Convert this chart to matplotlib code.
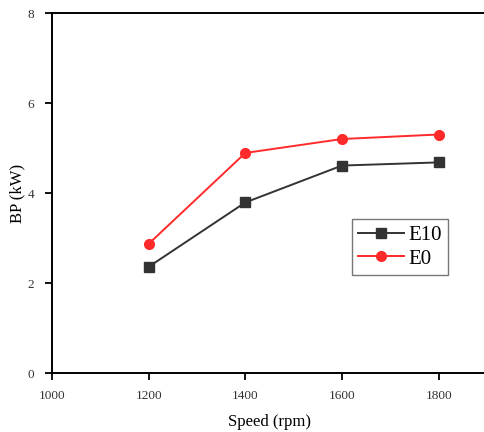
import matplotlib
matplotlib.use("Agg")
import matplotlib.pyplot as plt

# engine speed vs brake power
speed = [1200, 1400, 1600, 1800]
bp_e10 = [2.36, 3.79, 4.61, 4.68]
bp_e0 = [2.87, 4.89, 5.20, 5.30]
xticks = [1000, 1200, 1400, 1600, 1800]
yticks = [0, 2, 4, 6, 8]

plt.rcParams['font.family'] = ['Liberation Serif', 'DejaVu Serif']

fig = plt.figure(figsize=(4.85, 4.32), dpi=100)
ax = fig.add_axes([52 / 485, 1 - 373 / 432, 435 / 485, 360 / 432])

ax.plot(speed, bp_e10, color='#333333', marker='s', markersize=6.5, linewidth=1.4, label='E10')
ax.plot(speed, bp_e0, color='#ff2a2a', marker='o', markersize=7, linewidth=1.4, label='E0')

ax.set_xlim(1000, 1900)
ax.set_ylim(0, 8)
ax.set_xticks(xticks)
ax.set_yticks(yticks)
ax.tick_params(direction='out', length=5, width=1.3, labelsize=9.5, labelcolor='#333333')
ax.tick_params(axis='x', pad=7)
ax.tick_params(axis='y', pad=8)

for side in ['left', 'bottom', 'top']:
    ax.spines[side].set_linewidth(1.4)
ax.spines['right'].set_visible(False)

ax.set_xlabel('Speed (rpm)', fontsize=12, labelpad=9)
ax.set_ylabel('BP (kW)', fontsize=12, va='center')
ax.yaxis.set_label_coords(-0.079, 0.5)

leg = ax.legend(loc='upper left', bbox_to_anchor=(300 / 435, 1 - 206 / 360), fontsize=15,
                frameon=True, fancybox=False, edgecolor='#555555', handlelength=2.2,
                handletextpad=0.2, borderpad=0.3, labelspacing=0.2, borderaxespad=0)
leg.get_frame().set_linewidth(1.0)

fig.savefig('out.png', dpi=100)
